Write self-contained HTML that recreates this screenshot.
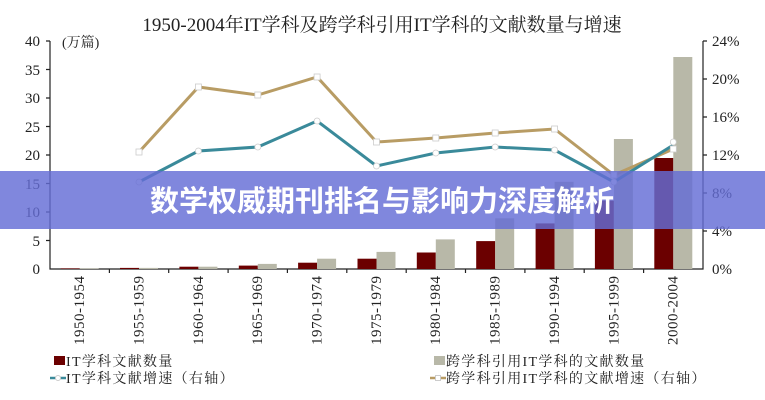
<!DOCTYPE html>
<html><head><meta charset="utf-8"><style>
html,body{margin:0;padding:0;background:#fff;}
svg{display:block;font-family:"Liberation Serif","Noto Serif CJK SC",serif;}
</style></head><body>
<svg width="765" height="400" viewBox="0 0 765 400" xmlns="http://www.w3.org/2000/svg">
<text x="382" y="31" font-size="19" text-anchor="middle" fill="#222">1950-2004年IT学科及跨学科引用IT学科的文献数量与增速</text>
<g font-size="15" fill="#222" text-anchor="end">
<text x="40" y="46">40</text><text x="40" y="75">35</text><text x="40" y="103">30</text><text x="40" y="132">25</text><text x="40" y="160">20</text><text x="40" y="189">15</text><text x="40" y="217">10</text><text x="40" y="246">5</text><text x="40" y="274">0</text>
</g>
<text x="62" y="47" font-size="14" fill="#222">(万篇)</text>
<g font-size="15" fill="#222">
<text x="712" y="46">24%</text><text x="712" y="84">20%</text><text x="712" y="122">16%</text><text x="712" y="160">12%</text><text x="712" y="198">8%</text><text x="712" y="236">4%</text><text x="712" y="274">0%</text>
</g>
<g stroke="#222" stroke-width="1.2" fill="none">
<path d="M50 41V269H703V41"/>
<path d="M46 41H50M46 69.5H50M46 98H50M46 126.5H50M46 155H50M46 183.5H50M46 212H50M46 240.5H50"/>
<path d="M703 41H707M703 79H707M703 117H707M703 155H707M703 193H707M703 231H707"/>
<path d="M109.4 269v4M168.7 269v4M228.1 269v4M287.4 269v4M346.8 269v4M406.2 269v4M465.5 269v4M524.9 269v4M584.2 269v4M643.6 269v4"/>
</g>
<g fill="#6b0000">
<rect x="60.7" y="268.4" width="19" height="0.6"/><rect x="120" y="267.9" width="19" height="1.1"/><rect x="179.4" y="266.7" width="19" height="2.3"/><rect x="238.8" y="265.6" width="19" height="3.4"/><rect x="298.1" y="262.7" width="19" height="6.3"/><rect x="357.5" y="258.7" width="19" height="10.3"/><rect x="416.8" y="252.5" width="19" height="16.5"/><rect x="476.2" y="241.1" width="19" height="27.9"/><rect x="535.6" y="223.4" width="19" height="45.6"/><rect x="594.9" y="200.6" width="19" height="68.4"/><rect x="654.3" y="158" width="19" height="111"/>
</g>
<g fill="#b8b8a8">
<rect x="79.7" y="268.4" width="19" height="0.6"/><rect x="139" y="267.9" width="19" height="1.1"/><rect x="198.4" y="266.7" width="19" height="2.3"/><rect x="257.8" y="263.9" width="19" height="5.1"/><rect x="317.1" y="258.7" width="19" height="10.3"/><rect x="376.5" y="251.9" width="19" height="17.1"/><rect x="435.8" y="239.4" width="19" height="29.6"/><rect x="495.2" y="218.3" width="19" height="50.7"/><rect x="554.6" y="181.8" width="19" height="87.2"/><rect x="613.9" y="139" width="19" height="130"/><rect x="673.3" y="57" width="19" height="212"/>
</g>
<polyline fill="none" stroke="#b89c64" stroke-width="3" points="139,152 198.4,87 257.8,95 317.1,77 376.5,142 435.8,138 495.2,133 554.6,129 613.9,175 673.3,149"/>
<polyline fill="none" stroke="#3a8a9a" stroke-width="3" points="139,182 198.4,151 257.8,147 317.1,121 376.5,166 435.8,153 495.2,147 554.6,150 613.9,182 673.3,145"/>
<g fill="#fff" stroke="#ccc" stroke-width="0.8">
<rect x="136" y="149" width="6" height="6"/><rect x="195.4" y="84" width="6" height="6"/><rect x="254.8" y="92" width="6" height="6"/><rect x="314.1" y="74" width="6" height="6"/><rect x="373.5" y="139" width="6" height="6"/><rect x="432.8" y="135" width="6" height="6"/><rect x="492.2" y="130" width="6" height="6"/><rect x="551.6" y="126" width="6" height="6"/><rect x="610.9" y="172" width="6" height="6"/><rect x="670.3" y="146" width="6" height="6"/>
<circle cx="139" cy="182" r="3"/><circle cx="198.4" cy="151" r="3"/><circle cx="257.8" cy="147" r="3"/><circle cx="317.1" cy="121" r="3"/><circle cx="376.5" cy="166" r="3"/><circle cx="435.8" cy="153" r="3"/><circle cx="495.2" cy="147" r="3"/><circle cx="554.6" cy="150" r="3"/><circle cx="613.9" cy="182" r="3"/><circle cx="673.3" cy="142" r="3"/>
</g>
<g font-size="15" fill="#222" letter-spacing="0.5">
<text transform="translate(84,345) rotate(-90)">1950-1954</text>
<text transform="translate(143.4,345) rotate(-90)">1955-1959</text>
<text transform="translate(202.8,345) rotate(-90)">1960-1964</text>
<text transform="translate(262.2,345) rotate(-90)">1965-1969</text>
<text transform="translate(321.5,345) rotate(-90)">1970-1974</text>
<text transform="translate(380.9,345) rotate(-90)">1975-1979</text>
<text transform="translate(440.2,345) rotate(-90)">1980-1984</text>
<text transform="translate(499.6,345) rotate(-90)">1985-1989</text>
<text transform="translate(559,345) rotate(-90)">1990-1994</text>
<text transform="translate(618.3,345) rotate(-90)">1995-1999</text>
<text transform="translate(677.7,345) rotate(-90)">2000-2004</text>
</g>
<g font-size="14" fill="#222" letter-spacing="1.3">
<rect x="54" y="356" width="11" height="9" fill="#6b0000"/>
<text x="66" y="366">IT学科文献数量</text>
<rect x="434" y="356" width="11" height="9" fill="#b8b8a8"/>
<text x="446" y="366">跨学科引用IT学科的文献数量</text>
<text x="66" y="383">IT学科文献增速（右轴）</text>
<text x="446" y="383">跨学科引用IT学科的文献增速（右轴）</text>
</g>
<line x1="50" y1="378" x2="66" y2="378" stroke="#3a8a9a" stroke-width="2.5"/><circle cx="58" cy="378" r="2.5" fill="#fff" stroke="#ccc"/>
<line x1="430" y1="378" x2="446" y2="378" stroke="#b89c64" stroke-width="2.5"/><rect x="435.5" y="375.5" width="5" height="5" fill="#fff" stroke="#ccc"/>
<rect x="0" y="171" width="765" height="58" fill="rgb(100,108,214)" fill-opacity="0.82"/>
<text x="382" y="211" font-size="29" font-weight="bold" text-anchor="middle" fill="#fff" style="font-family:'Noto Sans CJK SC',sans-serif">数学权威期刊排名与影响力深度解析</text>
</svg>
</body></html>
